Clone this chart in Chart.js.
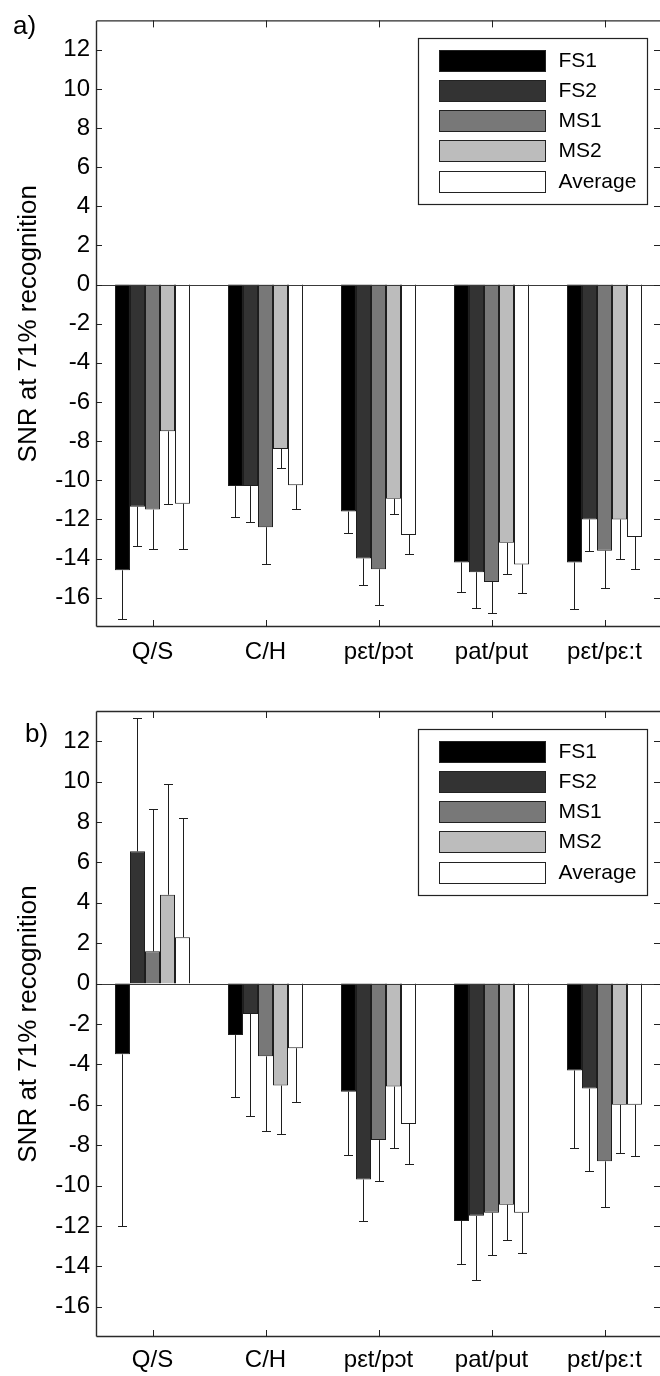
<!DOCTYPE html>
<html><head><meta charset="utf-8">
<script src="https://cdn.jsdelivr.net/npm/chart.js@4/dist/chart.umd.min.js"></script>
<style>
html,body{margin:0;padding:0;background:#fff;}
#wrap{position:relative;width:660px;height:1376px;overflow:hidden;background:#fff;}
canvas{position:absolute;left:0;}
.panel{position:absolute;font-family:"Liberation Sans",Arial,sans-serif;font-size:26px;color:#000;line-height:26px;white-space:nowrap;}
</style></head><body>
<div id="wrap">
<canvas id="ca" width="661" height="688" style="top:0px"></canvas>
<canvas id="cb" width="661" height="688" style="top:688px"></canvas>
<div class="panel" style="left:13px;top:12px">a)</div>
<div class="panel" style="left:25px;top:720px">b)</div>
</div>
<script>
// ---- data ----
const categories = ['Q/S', 'C/H', 'pεt/pɔt', 'pat/put', 'pεt/pε:t'];
const seriesNames = ['FS1', 'FS2', 'MS1', 'MS2', 'Average'];
const seriesColors = ['#000000', '#333333', '#787878', '#bcbcbc', '#ffffff'];
const yTickValues = [-16, -14, -12, -10, -8, -6, -4, -2, 0, 2, 4, 6, 8, 10, 12];
const yTickLabels = ['-16', '-14', '-12', '-10', '-8', '-6', '-4', '-2', '0', '2', '4', '6', '8', '10', '12'];
const yTitle = 'SNR at 71% recognition';

// panel a) values
const aFS1 = [-14.6, -10.3, -11.6, -14.2, -14.2];
const aFS2 = [-11.35, -10.3, -14.0, -14.7, -12.0];
const aMS1 = [-11.5, -12.4, -14.55, -15.2, -13.6];
const aMS2 = [-7.5, -8.4, -10.95, -13.2, -12.0];
const aAvg = [-11.2, -10.25, -12.8, -14.3, -12.9];
// panel a) error lengths
const aFS1err = [2.5, 1.6, 1.1, 1.5, 2.4];
const aFS2err = [2.0, 1.85, 1.35, 1.85, 1.6];
const aMS1err = [2.0, 1.9, 1.85, 1.6, 1.9];
const aMS2err = [3.7, 0.95, 0.8, 1.6, 2.0];
const aAvgerr = [2.3, 1.2, 0.95, 1.45, 1.65];

// panel b) values
const bFS1 = [-3.5, -2.55, -5.35, -11.75, -4.3];
const bFS2 = [6.55, -1.5, -9.7, -11.5, -5.2];
const bMS1 = [1.6, -3.6, -7.75, -11.35, -8.8];
const bMS2 = [4.4, -5.05, -5.1, -10.95, -6.0];
const bAvg = [2.3, -3.2, -6.95, -11.35, -6.0];
// panel b) error lengths
const bFS1err = [8.5, 3.05, 3.15, 2.15, 3.85];
const bFS2err = [6.6, 5.05, 2.05, 3.2, 4.1];
const bMS1err = [7.05, 3.7, 2.0, 2.1, 2.25];
const bMS2err = [5.5, 2.4, 3.05, 1.75, 2.4];
const bAvgerr = [5.9, 2.65, 2.0, 2.0, 2.55];

const FONT = '"Liberation Sans", Arial, sans-serif';

function line(ctx, x1, y1, x2, y2) {
  ctx.beginPath(); ctx.moveTo(x1, y1); ctx.lineTo(x2, y2); ctx.stroke();
}

function stylePlugin(errs) {
  return {
    id: 'matlabStyle',
    afterDatasetsDraw(chart) {
      const ctx = chart.ctx, a = chart.chartArea, x = chart.scales.x, y = chart.scales.y;
      ctx.save();
      // error bars (one-sided, away from zero)
      ctx.strokeStyle = '#1e1e1e'; ctx.lineWidth = 1;
      chart.data.datasets.forEach((ds, di) => {
        const meta = chart.getDatasetMeta(di);
        meta.data.forEach((bar, i) => {
          const v = ds.data[i], e = errs[di][i];
          const end = v >= 0 ? v + e : v - e;
          const px = Math.round(bar.x) + 0.5;
          const y0 = y.getPixelForValue(v);
          const y1 = Math.round(y.getPixelForValue(end)) + 0.5;
          line(ctx, px, y0, px, y1);
          line(ctx, px - 4.5, y1, px + 4.5, y1);
        });
      });
      // baseline at zero
      ctx.strokeStyle = '#3a3a3a';
      const yz = Math.round(y.getPixelForValue(0)) + 0.5;
      line(ctx, a.left, yz, a.right + 2, yz);
      // frame: left, top, bottom (right edge lies outside the picture)
      ctx.strokeStyle = '#2a2a2a'; ctx.lineWidth = 1.4;
      const L = a.left + 0.5, T = a.top + 0.5, B = a.bottom - 0.5;
      line(ctx, L, T, a.right + 2, T);
      line(ctx, L, B, a.right + 2, B);
      line(ctx, L, T, L, B);
      ctx.lineWidth = 1; ctx.strokeStyle = '#222';
      // inward y ticks both sides
      y.ticks.forEach(t => {
        const py = Math.round(y.getPixelForValue(t.value)) + 0.5;
        line(ctx, a.left, py, a.left + 6, py);
        line(ctx, a.right - 7, py, a.right + 2, py);
      });
      // inward x ticks top and bottom
      x.ticks.forEach((t, i) => {
        const px = Math.round(x.getPixelForTick(i)) + 0.5;
        line(ctx, px, a.bottom, px, a.bottom - 7);
        line(ctx, px, a.top, px, a.top + 7);
      });
      ctx.restore();
    },
    afterDraw(chart) {
      const ctx = chart.ctx, a = chart.chartArea;
      const lx = Math.round(a.left + 322) + 0.5, ly = Math.round(a.top + 18) + 0.5;
      const lw = 229, lh = 166;
      ctx.save();
      ctx.fillStyle = '#fff'; ctx.fillRect(lx, ly, lw, lh);
      ctx.strokeStyle = '#222'; ctx.lineWidth = 1.2; ctx.strokeRect(lx, ly, lw, lh);
      ctx.lineWidth = 1;
      ctx.font = '21px ' + FONT; ctx.textBaseline = 'middle'; ctx.textAlign = 'left';
      chart.data.datasets.forEach((ds, i) => {
        const sy = Math.round(ly + 11 + i * 30.3) + 0.5;
        ctx.fillStyle = ds.backgroundColor;
        ctx.fillRect(lx + 21, sy, 106, 21);
        ctx.strokeStyle = '#222'; ctx.strokeRect(lx + 21, sy, 106, 21);
        ctx.fillStyle = '#000';
        ctx.fillText(ds.label, lx + 140, sy + 11);
      });
      ctx.restore();
    }
  };
}

function makeChart(id, series, errs, padTop, xHeight, xPad) {
  const datasets = series.map((d, i) => ({
    label: seriesNames[i],
    data: d,
    backgroundColor: seriesColors[i],
    borderColor: '#1e1e1e',
    borderWidth: 1,
    borderSkipped: 'start',
    categoryPercentage: 0.664,
    barPercentage: 1.0
  }));
  return new Chart(document.getElementById(id), {
    type: 'bar',
    data: { labels: categories, datasets },
    options: {
      responsive: false,
      animation: false,
      devicePixelRatio: 1,
      layout: { padding: { top: padTop, left: 0, right: 0, bottom: 0 } },
      plugins: { legend: { display: false }, tooltip: { enabled: false }, title: { display: false } },
      scales: {
        x: {
          type: 'category',
          grid: { display: false, drawTicks: false },
          border: { display: false },
          ticks: { color: '#000', font: { family: FONT, size: 24 }, padding: xPad, autoSkip: false, maxRotation: 0, minRotation: 0 },
          afterFit: s => { s.height = xHeight; }
        },
        y: {
          type: 'linear',
          min: -17.5, max: 13.5,
          grid: { display: false, drawTicks: false },
          border: { display: false },
          ticks: {
            color: '#000', font: { family: FONT, size: 24 }, padding: 6, autoSkip: false,
            callback: v => { const k = yTickValues.indexOf(v); return k >= 0 ? yTickLabels[k] : ''; }
          },
          afterBuildTicks: s => { s.ticks = yTickValues.map(v => ({ value: v })); },
          title: { display: true, text: yTitle, color: '#000', font: { family: FONT, size: 26 }, padding: { top: 13, bottom: 0 } },
          afterFit: s => { s.width = 96; }
        }
      }
    },
    plugins: [stylePlugin(errs)]
  });
}

makeChart('ca', [aFS1, aFS2, aMS1, aMS2, aAvg], [aFS1err, aFS2err, aMS1err, aMS2err, aAvgerr], 9, 61, 11);
makeChart('cb', [bFS1, bFS2, bMS1, bMS2, bAvg], [bFS1err, bFS2err, bMS1err, bMS2err, bAvgerr], 23, 39, 9);
</script>
</body></html>
